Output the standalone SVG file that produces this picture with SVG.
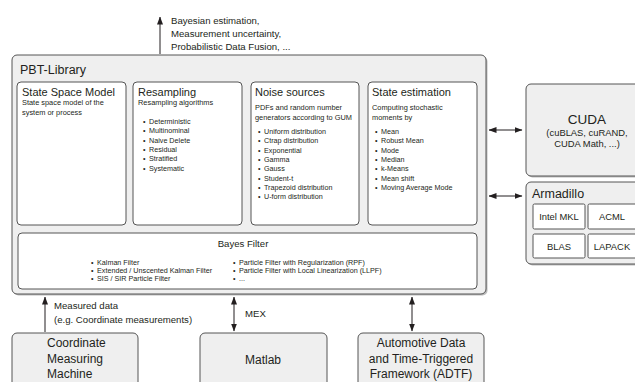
<svg xmlns="http://www.w3.org/2000/svg" width="635" height="382" viewBox="0 0 635 382">
<style>
text{font-family:"Liberation Sans",Arial,sans-serif;fill:#231f20}
.outer{fill:#efefef;stroke:#555;stroke-width:1}
.inner{fill:#fff;stroke:#555;stroke-width:1}
.shadow{fill:#bbb;stroke:none}
.big{font-size:12.5px}
.ttl{font-size:11px}
.desc{font-size:7.4px}
.bul{font-size:7.2px}
.lbl{font-size:9.6px}
.node{font-size:12px}
.sm{font-size:9.4px}
.conn line{stroke:#231f20;stroke-width:1}
</style>
<defs>
<marker id="ah" viewBox="0 0 8 6" refX="7.5" refY="3" markerWidth="8" markerHeight="6" markerUnits="userSpaceOnUse" orient="auto-start-reverse">
<path d="M0,0 L8,3 L0,6 z" fill="#231f20"/>
</marker>
</defs>

<g id="pbt-library">
<rect class="shadow" x="13.5" y="56.5" width="474" height="239" rx="5"/>
<rect class="outer" x="12" y="55" width="474" height="239" rx="5"/>
<text class="big" x="20" y="74">PBT-Library</text>
</g>

<g id="state-space-model">
<rect class="inner" x="17" y="82" width="109" height="143" rx="4"/>
<text class="ttl" x="22" y="96">State Space Model</text>
<text class="desc" x="22" y="105">State space model of the</text>
<text class="desc" x="22" y="115">system or process</text>
</g>

<g id="resampling">
<rect class="inner" x="133" y="82" width="109" height="143" rx="4"/>
<text class="ttl" x="138" y="96">Resampling</text>
<text class="desc" x="138" y="105">Resampling algorithms</text>
<text class="bul" y="124"><tspan x="143">•</tspan><tspan x="149">Deterministic</tspan></text>
<text class="bul" y="133.3"><tspan x="143">•</tspan><tspan x="149">Multinominal</tspan></text>
<text class="bul" y="142.6"><tspan x="143">•</tspan><tspan x="149">Naive Delete</tspan></text>
<text class="bul" y="151.9"><tspan x="143">•</tspan><tspan x="149">Residual</tspan></text>
<text class="bul" y="161.2"><tspan x="143">•</tspan><tspan x="149">Stratified</tspan></text>
<text class="bul" y="170.5"><tspan x="143">•</tspan><tspan x="149">Systematic</tspan></text>
</g>

<g id="noise-sources">
<rect class="inner" x="251" y="82" width="108" height="143" rx="4"/>
<text class="ttl" x="255" y="96">Noise sources</text>
<text class="desc" x="255" y="110">PDFs and random number</text>
<text class="desc" x="255" y="120">generators according to GUM</text>
<text class="bul" y="134"><tspan x="258">•</tspan><tspan x="264">Uniform distribution</tspan></text>
<text class="bul" y="143.3"><tspan x="258">•</tspan><tspan x="264">Ctrap distribution</tspan></text>
<text class="bul" y="152.6"><tspan x="258">•</tspan><tspan x="264">Exponential</tspan></text>
<text class="bul" y="161.9"><tspan x="258">•</tspan><tspan x="264">Gamma</tspan></text>
<text class="bul" y="171.2"><tspan x="258">•</tspan><tspan x="264">Gauss</tspan></text>
<text class="bul" y="180.5"><tspan x="258">•</tspan><tspan x="264">Student-t</tspan></text>
<text class="bul" y="189.8"><tspan x="258">•</tspan><tspan x="264">Trapezoid distribution</tspan></text>
<text class="bul" y="199.1"><tspan x="258">•</tspan><tspan x="264">U-form distribution</tspan></text>
</g>

<g id="state-estimation">
<rect class="inner" x="368" y="82" width="109" height="143" rx="4"/>
<text class="ttl" x="372" y="96">State estimation</text>
<text class="desc" x="372" y="110">Computing stochastic</text>
<text class="desc" x="372" y="120">moments by</text>
<text class="bul" y="134"><tspan x="375">•</tspan><tspan x="381">Mean</tspan></text>
<text class="bul" y="143.3"><tspan x="375">•</tspan><tspan x="381">Robust Mean</tspan></text>
<text class="bul" y="152.6"><tspan x="375">•</tspan><tspan x="381">Mode</tspan></text>
<text class="bul" y="161.9"><tspan x="375">•</tspan><tspan x="381">Median</tspan></text>
<text class="bul" y="171.2"><tspan x="375">•</tspan><tspan x="381">k-Means</tspan></text>
<text class="bul" y="180.5"><tspan x="375">•</tspan><tspan x="381">Mean shift</tspan></text>
<text class="bul" y="189.8"><tspan x="375">•</tspan><tspan x="381">Moving Average Mode</tspan></text>
</g>

<g id="bayes-filter">
<rect class="inner" x="18" y="233" width="459" height="56" rx="4"/>
<text class="lbl" x="243" y="247" text-anchor="middle">Bayes Filter</text>
<text class="bul" y="265"><tspan x="91">•</tspan><tspan x="97">Kalman Filter</tspan></text>
<text class="bul" y="273"><tspan x="91">•</tspan><tspan x="97">Extended / Unscented Kalman Filter</tspan></text>
<text class="bul" y="281"><tspan x="91">•</tspan><tspan x="97">SIS / SIR Particle Filter</tspan></text>
<text class="bul" y="265"><tspan x="233">•</tspan><tspan x="239">Particle Filter with Regularization (RPF)</tspan></text>
<text class="bul" y="273"><tspan x="233">•</tspan><tspan x="239">Particle Filter with Local Linearization (LLPF)</tspan></text>
<text class="bul" y="281"><tspan x="233">•</tspan><tspan x="239">...</tspan></text>
</g>

<g id="cuda">
<rect class="shadow" x="527.5" y="85.5" width="120" height="92" rx="5"/>
<rect class="outer" x="526" y="84" width="120" height="92" rx="5"/>
<text x="587" y="124" text-anchor="middle" style="font-size:13.5px">CUDA</text>
<text class="sm" x="587" y="136" text-anchor="middle">(cuBLAS, cuRAND,</text>
<text class="sm" x="587" y="147" text-anchor="middle">CUDA Math, ...)</text>
</g>

<g id="armadillo">
<rect class="shadow" x="527.5" y="183.5" width="120" height="82" rx="5"/>
<rect class="outer" x="526" y="182" width="120" height="82" rx="5"/>
<text x="532" y="198" style="font-size:12.5px">Armadillo</text>
<rect class="inner" x="533" y="204" width="52" height="25" rx="1.5"/>
<text class="sm" x="559" y="220" text-anchor="middle">Intel MKL</text>
<rect class="inner" x="588" y="204" width="52" height="25" rx="1.5"/>
<text class="sm" x="612" y="220" text-anchor="middle">ACML</text>
<rect class="inner" x="533" y="234" width="52" height="24" rx="1.5"/>
<text class="sm" x="559" y="250" text-anchor="middle">BLAS</text>
<rect class="inner" x="588" y="234" width="52" height="24" rx="1.5"/>
<text class="sm" x="612" y="250" text-anchor="middle">LAPACK</text>
</g>

<g id="cmm">
<rect class="outer" x="12" y="333" width="126" height="60" rx="5"/>
<text class="node" x="47" y="347">Coordinate</text>
<text class="node" x="47" y="362.5">Measuring</text>
<text class="node" x="47" y="378">Machine</text>
</g>

<g id="matlab">
<rect class="outer" x="200" y="333" width="127" height="60" rx="5"/>
<text class="node" x="263" y="364" text-anchor="middle">Matlab</text>
</g>

<g id="adtf">
<rect class="outer" x="358" y="333" width="126" height="60" rx="5"/>
<text class="node" x="421" y="347" text-anchor="middle">Automotive Data</text>
<text class="node" x="421" y="362.5" text-anchor="middle">and Time-Triggered</text>
<text class="node" x="421" y="378" text-anchor="middle">Framework (ADTF)</text>
</g>

<g class="conn" id="connectors">
<line x1="160" y1="54" x2="160" y2="17" marker-end="url(#ah)"/>
<line x1="489" y1="130" x2="522" y2="130" marker-start="url(#ah)" marker-end="url(#ah)"/>
<line x1="489" y1="196" x2="522" y2="196" marker-start="url(#ah)" marker-end="url(#ah)"/>
<line x1="45" y1="332" x2="45" y2="297" marker-end="url(#ah)"/>
<line x1="234" y1="297" x2="234" y2="331" marker-start="url(#ah)" marker-end="url(#ah)"/>
<line x1="412" y1="297" x2="412" y2="331" marker-start="url(#ah)" marker-end="url(#ah)"/>
</g>

<g id="labels">
<text class="lbl" x="171" y="24">Bayesian estimation,</text>
<text class="lbl" x="171" y="37">Measurement uncertainty,</text>
<text class="lbl" x="171" y="50">Probabilistic Data Fusion, ...</text>
<text class="lbl" x="54" y="309">Measured data</text>
<text class="lbl" x="54" y="323">(e.g. Coordinate measurements)</text>
<text class="lbl" x="245" y="317">MEX</text>
</g>
</svg>
